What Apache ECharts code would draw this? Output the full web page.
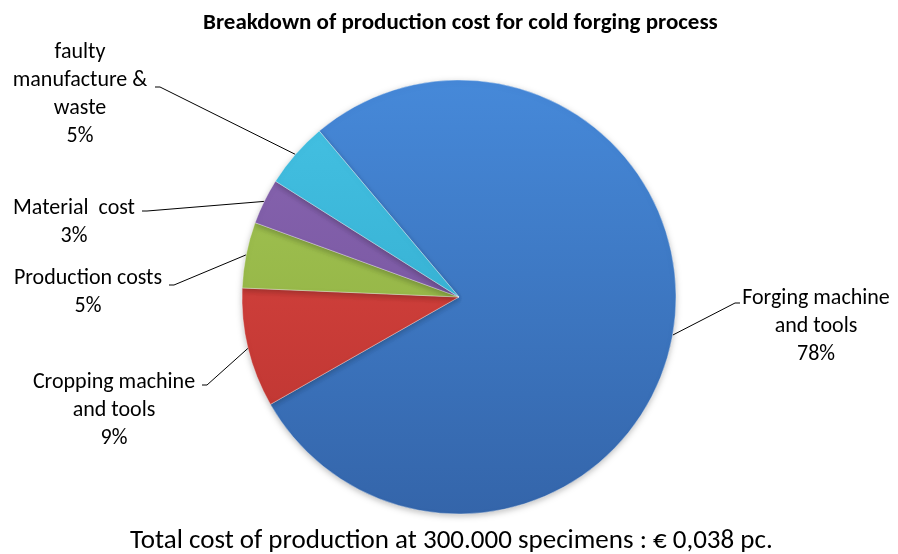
<!DOCTYPE html>
<html>
<head>
<meta charset="utf-8">
<script src="https://cdn.jsdelivr.net/npm/echarts@6/dist/echarts.min.js"></script>
<style>
  html, body { margin: 0; padding: 0; background: #ffffff; }
  #chart { width: 898px; height: 554px; }
</style>
</head>
<body>
<div id="chart"></div>
<script>
// Cost shares (percent of total production cost)
const categories = [
  'Forging machine\nand tools',
  'Cropping machine\nand tools',
  'Production costs',
  'Material  cost',
  'faulty\nmanufacture &\nwaste'
];
const shares = [77.9, 8.9, 4.9, 3.4, 4.9];

const chartTitle = 'Breakdown of production cost for cold forging process';
const footnote = 'Total cost of production at 300.000 specimens : \u20ac 0,038 pc.';

// Top/bottom gradient stops for each slice
const sliceColors = [
  ['#4689d9', '#3465aa'],
  ['#e04843', '#b8332f'],
  ['#a5c856', '#8aa83c'],
  ['#8a66b2', '#6e4f97'],
  ['#45c2e4', '#2ca4c6']
];

// Label block placement: center x, top y, then where the leader line meets the text
const labelSpots = [
  [816, 284, 740, 303],
  [114, 368, 202, 385],
  [88, 264, 169, 285],
  [74, 194, 142, 211],
  [80, 38, 155, 87]
];

const FONT = 'Carlito, Lato, "Open Sans", sans-serif';

const chart = echarts.init(document.getElementById('chart'), null, { renderer: 'canvas' });

const pieData = categories.map((name, i) => ({
  name: name,
  value: shares[i],
  itemStyle: {
    color: {
      type: 'linear', x: 0, y: 80, x2: 0, y2: 514, global: true,
      colorStops: [
        { offset: 0, color: sliceColors[i][0] },
        { offset: 1, color: sliceColors[i][1] }
      ]
    }
  }
}));

chart.setOption({
  animation: false,
  title: [
    {
      text: chartTitle,
      left: 198,
      top: 7,
      textStyle: { fontFamily: FONT, fontSize: 23, fontWeight: 'bold', color: '#000' }
    },
    {
      text: footnote,
      left: 125,
      top: 523,
      textStyle: { fontFamily: FONT, fontSize: 27, fontWeight: 'normal', color: '#000' }
    }
  ],
  series: [{
    type: 'pie',
    center: [459, 297],
    radius: [0, 217],
    startAngle: 130.1,
    clockwise: true,
    percentPrecision: 0,
    data: pieData,
    itemStyle: {
      borderColor: 'rgba(255,255,255,0.35)',
      borderWidth: 1,
      shadowBlur: 6,
      shadowOffsetY: 2,
      shadowColor: 'rgba(0,0,0,0.25)'
    },
    label: {
      show: true,
      position: 'outside',
      formatter: '{b}\n{d}%',
      fontFamily: FONT,
      fontSize: 22,
      lineHeight: 28,
      color: '#000',
      align: 'center'
    },
    labelLine: {
      show: true,
      lineStyle: { color: '#000', width: 1 }
    },
    labelLayout: function (p) {
      const s = labelSpots[p.dataIndex];
      const start = p.labelLinePoints ? p.labelLinePoints[0] : null;
      const bend = s[2] < 459 ? s[2] + 5 : s[2] - 5;
      const out = { x: s[0], y: s[1], align: 'center', verticalAlign: 'top' };
      if (start) {
        out.labelLinePoints = [start, [bend, s[3]], [s[2], s[3]]];
      }
      return out;
    },
    emphasis: { disabled: true }
  }]
});
</script>
</body>
</html>
